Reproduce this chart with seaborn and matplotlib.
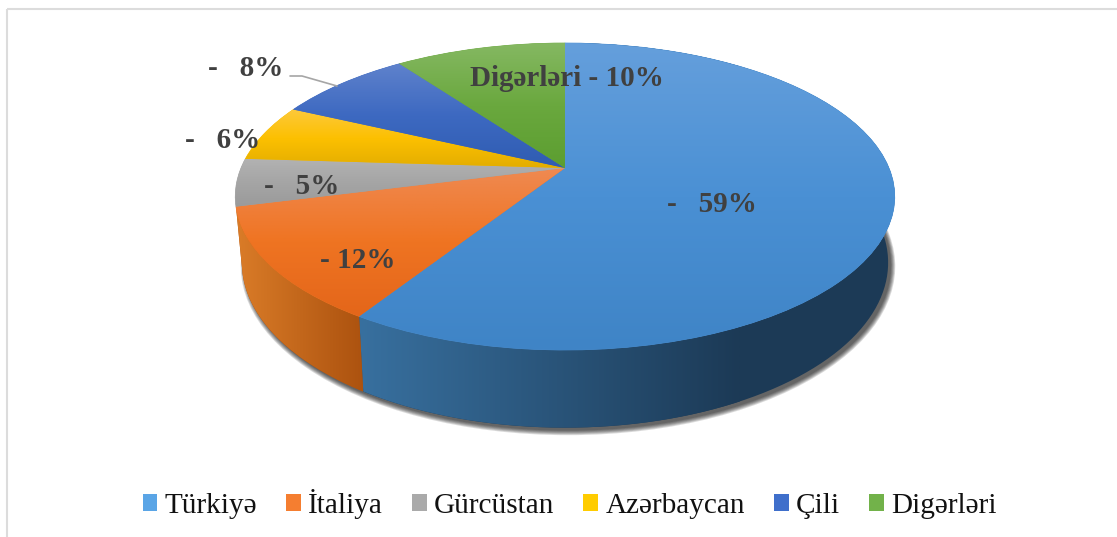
import matplotlib
matplotlib.use('Agg')
import matplotlib.pyplot as plt
import numpy as np
import seaborn as sns
from matplotlib.colors import LinearSegmentedColormap
from matplotlib.patches import Circle, PathPatch, Rectangle
from matplotlib.path import Path
from matplotlib.transforms import Transform

categories = ['Türkiyə', 'İtaliya', 'Gürcüstan', 'Azərbaycan', 'Çili', 'Digərləri']
shares = [59, 12, 5, 6, 8, 10]
slice_labels = ['-   59%', '- 12%', '-   5%', '-   6%', '-   8%', 'Digərləri - 10%']

base_colors = ['#4a90d4', '#ef7422', '#a5a5a5', '#fcc000', '#3d69c1', '#6aa83e']
top_colors = ['#659fdc', '#ef8a52', '#b2b2b2', '#fdc93c', '#5f82cc', '#85b862']
low_colors = ['#3f84c6', '#e4661a', '#9a9a9a', '#e3ad00', '#2f5cb2', '#5c9e30']
legend_colors = ['#5aa5e6', '#f57e30', '#aaaaaa', '#ffcc00', '#3f6fcb', '#72b24a']
wall_left = ['#38709f', '#da7c28']
wall_right = ['#1c3a56', '#ac520f']

sns.set_theme(style='white')
plt.rcParams['font.family'] = ['Liberation Serif', 'DejaVu Serif']

# pie sits on a tilted disc, apex is not the ellipse centre
APEX_X, APEX_Y = 565, 168
TILT = 0.1857
SCALE_X, SCALE_Y = 324, 148.2


def disc(xy):
    u, v = xy[:, 0], xy[:, 1]
    w = 1 + TILT * v
    return np.column_stack([SCALE_X * u / w, -SCALE_Y * v / w])


class TopFace(Transform):
    input_dims = output_dims = 2
    is_affine = False

    def transform_non_affine(self, xy):
        return disc(np.asarray(xy)) + [APEX_X, APEX_Y]


class BottomFace(Transform):
    input_dims = output_dims = 2
    is_affine = False

    def __init__(self, grow=0.0, drop=64, shift=0):
        super().__init__()
        self.grow = grow
        self.drop = drop
        self.shift = shift

    def transform_non_affine(self, xy):
        p = disc(np.asarray(xy)) * [0.98 + self.grow / 2, 1.075 + self.grow]
        return p + [APEX_X + self.shift, APEX_Y + self.drop]


fig = plt.figure(figsize=(11.17, 5.37), dpi=100)
ax = fig.add_axes([0, 0, 1, 1])

wedges = ax.pie(shares, startangle=90, counterclock=False, colors=sns.color_palette(base_colors))[0]
ax.set_aspect('auto')
ax.set_autoscale_on(False)
ax.set_xlim(0, 1117)
ax.set_ylim(537, 0)

# frame runs off the right and bottom of the picture
ax.add_patch(Rectangle((7, 9), 1200, 600, fill=False, ec='#dcdcdc', lw=1.5, zorder=0))

# soft shadow under the pie
for grow in np.arange(0.0, 0.03, 0.005):
    ax.add_patch(Circle((0, 0), 1, fc='black', ec='none', alpha=0.14, zorder=1,
                        transform=BottomFace(grow, 67, 3) + ax.transData))

top = TopFace()
bottom = BottomFace()
for i, w in enumerate(wedges):
    # only the first two slices show their side wall
    if i < 2:
        t = np.radians(np.linspace(w.theta1, w.theta2, 120))
        arc = np.column_stack([np.cos(t), np.sin(t)])
        outline = np.vstack([top.transform(arc), bottom.transform(arc)[::-1]])
        wall = PathPatch(Path(outline, closed=False), fc=wall_right[i], ec='none', zorder=2)
        ax.add_patch(wall)
        x0, x1 = outline[:, 0].min(), outline[:, 0].max()
        y0, y1 = outline[:, 1].min(), outline[:, 1].max()
        x1 = min(x1, 740)
        cmap = LinearSegmentedColormap.from_list('w', [wall_left[i], wall_right[i]])
        im = ax.imshow(np.linspace(0, 1, 256)[None, :], cmap=cmap, extent=(x0, x1, y1, y0),
                       aspect='auto', zorder=2.1, interpolation='bilinear')
        im.set_clip_path(wall)

    # top face
    w.set_transform(top + ax.transData)
    w.set_zorder(3)
    w.set_edgecolor(base_colors[i])
    w.set_linewidth(0.5)
    pts = top.transform(w.get_path().vertices)
    cmap = LinearSegmentedColormap.from_list('t', [top_colors[i], base_colors[i], low_colors[i]])
    im = ax.imshow(np.linspace(0, 1, 256)[:, None], cmap=cmap,
                   extent=(pts[:, 0].min(), pts[:, 0].max(), pts[:, 1].max(), pts[:, 1].min()),
                   aspect='auto', zorder=3.1, interpolation='bilinear')
    im.set_clip_path(w)

ax.set_xlim(0, 1117)
ax.set_ylim(537, 0)

label_x = [712, 358, 302, 223, 246, 567]
label_y = [204, 260, 186, 140, 69, 79]
for s, lx, ly in zip(slice_labels, label_x, label_y):
    ax.text(lx, ly, s, ha='center', va='center', fontsize=21, fontweight='bold',
            color='#404040', zorder=5)

ax.plot([290, 302, 337], [76, 76, 86], color='#a6a6a6', lw=1.2, zorder=5)

handles = [Rectangle((0, 0), 1, 1, fc=c, ec='none') for c in legend_colors]
ax.legend(handles, categories, ncol=6, loc='center', bbox_to_anchor=(569.5 / 1117, 1 - 504 / 537),
          frameon=False, fontsize=21.1, handlelength=0.5, handleheight=0.5,
          handletextpad=0.25, columnspacing=0.99, labelcolor='#111111')

ax.axis('off')
fig.savefig('out.png', dpi=100)
